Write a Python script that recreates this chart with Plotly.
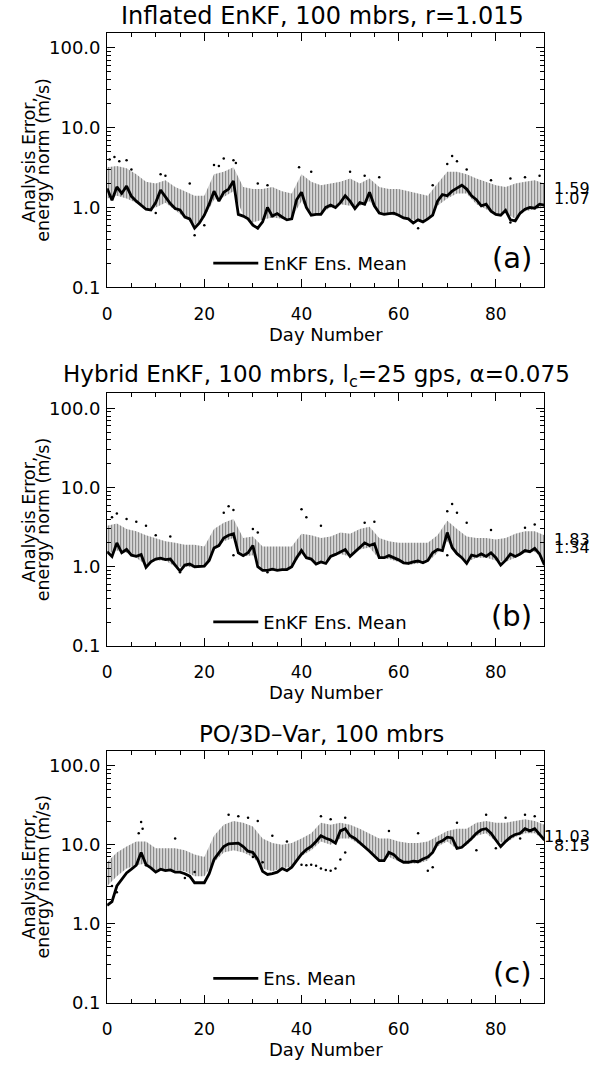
import math
import plotly.graph_objects as go

# ---------------- data ----------------
days = list(range(0, 91))
band_days = list(range(0, 91, 2))

mean_a = [1.73, 1.23, 1.81, 1.50, 1.85, 1.38, 1.20, 1.07, 0.95, 0.93,
          1.15, 1.65, 1.35, 1.12, 0.97, 0.93, 0.76, 0.72, 0.55, 0.64,
          0.80, 1.10, 1.60, 1.20, 1.55, 1.70, 2.15, 0.82, 0.78, 0.72,
          0.60, 0.55, 0.66, 1.00, 0.78, 0.84, 0.76, 0.70, 0.72, 1.25,
          1.55, 1.00, 0.80, 0.82, 0.82, 1.00, 1.07, 1.00, 1.15, 1.40,
          1.20, 0.97, 1.15, 1.10, 1.55, 1.05, 0.85, 0.82, 0.84, 0.85,
          0.80, 0.74, 0.72, 0.64, 0.70, 0.66, 0.72, 0.80, 1.20, 1.45,
          1.40, 1.60, 1.75, 1.90, 1.70, 1.40, 1.25, 1.05, 1.10, 0.90,
          0.82, 0.80, 0.92, 0.70, 0.68, 0.85, 0.95, 1.00, 0.98, 1.10,
          1.07]
hi_a = [3.2, 3.3, 3.1, 2.6, 2.1, 2.0, 2.2, 1.8, 1.6, 1.4, 1.4, 2.6, 2.8,
        3.2, 1.8, 1.7, 1.7, 1.8, 1.6, 1.5, 2.6, 2.1, 1.9, 2.0, 2.1, 2.3,
        2.0, 2.3, 1.8, 1.7, 1.7, 1.6, 1.5, 1.4, 2.0, 2.8, 2.8, 2.6, 2.3,
        2.1, 1.9, 1.8, 2.0, 2.1, 2.2, 2.0]
lo_a = [1.3, 1.4, 1.3, 1.15, 0.95, 1.0, 1.15, 0.92, 0.75, 0.6, 0.75, 1.25,
        1.35, 1.6, 0.8, 0.65, 0.7, 0.75, 0.72, 0.75, 1.2, 0.82, 0.85, 1.0,
        1.1, 1.05, 1.05, 1.2, 0.85, 0.82, 0.78, 0.72, 0.68, 0.7, 1.05, 1.3,
        1.5, 1.5, 1.1, 0.95, 0.82, 0.85, 0.72, 0.9, 0.95, 1.0]
out_a_x = [0.5, 1.5, 2.5, 4, 5, 11, 12, 17, 22, 23, 24, 26, 26.5, 31, 33,
           39.5, 42, 50, 53, 56, 67, 70, 71, 72, 74, 79, 83, 86, 89,
           18, 20, 31, 64, 83, 10]
out_a_y = [4.0, 4.3, 3.8, 3.9, 3.0, 2.6, 2.5, 2.0, 3.4, 3.3, 4.1, 3.9, 3.6,
           2.0, 1.9, 3.2, 2.8, 2.8, 2.5, 2.4, 1.9, 3.5, 4.4, 3.8, 3.0, 2.2,
           2.3, 2.4, 2.5, 0.45, 0.6, 0.55, 0.55, 0.65, 0.85]

mean_b = [1.55, 1.35, 2.00, 1.50, 1.65, 1.40, 1.35, 1.42, 0.98, 1.15,
          1.25, 1.28, 1.23, 1.25, 1.05, 0.88, 1.05, 1.08, 1.00, 1.00,
          1.02, 1.20, 1.72, 1.85, 2.30, 2.50, 2.60, 1.50, 1.38, 1.50,
          1.85, 1.00, 0.90, 0.90, 0.93, 0.90, 0.92, 0.92, 1.00, 1.30,
          1.60, 1.30, 1.25, 1.08, 1.15, 1.10, 1.35, 1.43, 1.55, 1.65,
          1.35, 1.55, 1.75, 2.00, 1.85, 1.95, 1.30, 1.30, 1.38, 1.30,
          1.22, 1.12, 1.10, 1.15, 1.18, 1.12, 1.20, 1.50, 1.65, 1.60,
          2.70, 1.75, 1.46, 1.30, 1.10, 1.40, 1.35, 1.45, 1.35, 1.50,
          1.30, 1.05, 1.20, 1.45, 1.35, 1.45, 1.60, 1.55, 1.70, 1.45,
          1.05]
hi_b = [3.3, 3.5, 3.0, 2.8, 2.5, 2.3, 2.1, 2.0, 1.9, 1.9, 1.8, 3.0, 3.6,
        4.0, 2.3, 2.4, 1.8, 1.8, 1.8, 1.8, 2.6, 2.5, 2.3, 2.4, 2.7, 2.6,
        3.0, 3.2, 2.3, 2.1, 2.0, 2.0, 2.0, 2.0, 2.5, 3.8, 3.0, 2.4, 2.3,
        2.3, 2.2, 2.3, 2.6, 2.8, 2.8, 2.5]
lo_b = [1.45, 1.6, 1.5, 1.3, 1.05, 1.2, 1.2, 1.0, 1.0, 0.98, 1.0, 1.6, 2.1,
        2.3, 1.35, 1.4, 0.9, 0.9, 0.9, 0.98, 1.45, 1.2, 1.1, 1.3, 1.45, 1.35,
        1.65, 1.75, 1.25, 1.25, 1.15, 1.05, 1.1, 1.15, 1.5, 2.1, 1.4, 1.15,
        1.3, 1.3, 1.2, 1.15, 1.3, 1.5, 1.55, 1.2]
out_b_x = [1, 2, 4, 6, 8, 10, 13, 24, 25, 26, 30, 31, 40, 41, 44, 53, 55,
           70, 71, 72, 74, 79, 86, 88, 15, 33, 26, 70]
out_b_y = [4.2, 4.7, 4.0, 3.7, 3.3, 2.5, 2.4, 4.8, 5.8, 5.2, 3.0, 2.7, 5.3,
           4.2, 3.3, 3.6, 3.7, 5.0, 6.2, 4.8, 3.6, 2.9, 3.1, 3.4, 0.85,
           0.85, 1.4, 1.4]

mean_c = [1.7, 1.9, 3.0, 3.6, 4.4, 4.9, 5.5, 8.0, 5.6, 5.1,
          4.5, 4.9, 4.7, 4.8, 4.5, 4.5, 4.3, 4.0, 3.3, 3.3,
          3.3, 4.3, 6.5, 7.9, 9.5, 10.3, 10.5, 10.5, 9.5, 8.3,
          8.0, 6.5, 4.6, 4.2, 4.3, 4.5, 5.0, 4.7, 5.2, 6.2,
          7.6, 8.7, 9.5, 11.0, 13.0, 12.1, 11.5, 10.5, 15.0, 16.0,
          13.0, 12.0, 10.6, 9.5, 8.3, 7.2, 6.3, 6.3, 8.0, 7.5,
          6.5, 6.0, 6.0, 6.2, 6.1, 6.6, 7.0, 8.0, 10.5, 11.2,
          12.5, 12.2, 9.0, 9.3, 10.5, 12.0, 14.0, 15.5, 16.0, 14.0,
          11.5, 9.5, 11.0, 12.5, 13.5, 14.0, 16.0, 15.0, 16.0, 13.5,
          11.5]
hi_c = [6.0, 8.0, 9.5, 11.0, 11.0, 9.0, 9.0, 9.0, 8.5, 7.5, 7.0, 13.0,
        18.0, 20.0, 19.0, 17.0, 12.0, 10.5, 10.0, 10.5, 12.0, 14.0, 19.0,
        18.0, 19.0, 18.0, 16.0, 14.0, 12.0, 12.0, 11.0, 10.5, 10.5, 11.0,
        13.0, 15.0, 16.0, 16.0, 19.0, 20.0, 19.0, 19.0, 20.0, 21.0, 20.0,
        18.0]
lo_c = [3.0, 4.0, 5.0, 5.5, 5.8, 4.8, 4.8, 4.8, 4.6, 4.0, 4.0, 6.0, 8.0,
        8.5, 8.0, 7.0, 5.0, 4.6, 5.0, 5.3, 7.2, 8.5, 11.0, 10.0, 12.0,
        12.0, 10.0, 8.0, 6.2, 7.0, 6.2, 5.8, 5.8, 6.3, 9.5, 11.0, 8.8,
        9.8, 13.0, 14.0, 11.0, 10.5, 12.5, 14.0, 14.0, 11.5]
out_c_x = [7, 7.3, 6.5, 1, 2, 14, 25, 27, 29, 31, 34, 37, 44, 46, 49, 58,
           64, 72, 78, 82, 86, 88, 8, 16, 18, 30, 32, 40, 41, 42, 43, 44,
           45, 46, 47, 48, 49, 66, 67, 76, 80, 85]
out_c_y = [19.5, 16.0, 14.0, 3.0, 2.5, 12.0, 24.0, 23.0, 22.0, 20.0, 13.0,
           11.0, 23.0, 21.0, 22.0, 15.0, 14.0, 19.0, 24.0, 22.0, 24.0, 23.0,
           5.5, 3.8, 4.5, 7.0, 6.0, 5.6, 5.5, 5.6, 5.4, 5.0, 4.8, 4.7, 5.0,
           6.5, 8.0, 4.7, 5.2, 8.5, 9.0, 12.0]

titles = ["Inflated EnKF, 100 mbrs, r=1.015",
          "Hybrid EnKF, 100 mbrs, l<sub>c</sub>=25 gps, \u03b1=0.075",
          "PO/3D\u2013Var, 100 mbrs"]
legend_labels = ["EnKF Ens. Mean", "EnKF Ens. Mean", "Ens. Mean"]
panel_tags = ["(a)", "(b)", "(c)"]
right_vals = [[1.59, 1.07], [1.83, 1.34], [11.03, 8.15]]
x_tickvals = [0, 20, 40, 60, 80]
y_tickvals = [0.1, 1, 10, 100]
y_ticktext = ["0.1", "1.0", "10.0", "100.0"]
x_title = "Day Number"
y_title_lines = ["Analysis Error,", "energy norm (m/s)"]

# ---------------- layout geometry ----------------
W, H = 595, 1068
FONT = "DejaVu Sans"
x_dom = [103 / W, 544 / W]
panel_px = [(33, 290), (397, 652), (758, 1012)]  # (top, bottom) in px
y_doms = [[1 - b / H, 1 - t / H] for t, b in panel_px]
title_cfg = [(320, 24), (314, 23), (319, 23)]  # (center x px, font size)
right_shift = [(3, 7), (6, 9), (5, 6)]         # label nudges (px, upwards)

panels = [
    (mean_a, hi_a, lo_a, out_a_x, out_a_y),
    (mean_b, hi_b, lo_b, out_b_x, out_b_y),
    (mean_c, hi_c, lo_c, out_c_x, out_c_y),
]

fig = go.Figure()
minor_y = [m * 10 ** e for e in range(-1, 3) for m in range(2, 10) if m * 10 ** e < 160]

annotations = []
for i, (mean, hi, lo, ox, oy) in enumerate(panels):
    n = "" if i == 0 else str(i + 1)
    xa, ya = "x" + n, "y" + n
    # ensemble member stripes (band)
    fig.add_trace(go.Scatter(x=band_days, y=lo, xaxis=xa, yaxis=ya, mode="lines",
                             line=dict(width=0, color="rgba(0,0,0,0)"),
                             showlegend=False, hoverinfo="skip"))
    fig.add_trace(go.Scatter(x=band_days, y=hi, xaxis=xa, yaxis=ya, mode="lines",
                             line=dict(width=0, color="rgba(0,0,0,0)"),
                             fill="tonexty", fillcolor="rgba(0,0,0,0)",
                             fillpattern=dict(shape="|", size=3, solidity=0.55,
                                              fgcolor="#000000", bgcolor="rgba(255,255,255,0)"),
                             showlegend=False, hoverinfo="skip"))
    fig.add_trace(go.Scatter(x=ox, y=oy, xaxis=xa, yaxis=ya, mode="markers",
                             marker=dict(size=2.5, color="black"),
                             showlegend=False, hoverinfo="skip"))
    leg = "legend" + n
    fig.add_trace(go.Scatter(x=days, y=mean, xaxis=xa, yaxis=ya, mode="lines",
                             line=dict(width=2.8, color="black"),
                             name=legend_labels[i], legend=leg, showlegend=True))

    top, bot = panel_px[i]
    axis_common = dict(showline=True, linecolor="black", linewidth=1, mirror="allticks",
                       ticks="inside", tickcolor="black", showgrid=False, zeroline=False)
    fig.layout["xaxis" + n] = dict(domain=x_dom, anchor=ya, range=[0, 90],
                                   tickmode="array", tickvals=x_tickvals, ticklen=8,
                                   ticklabelstandoff=11,
                                   tickfont=dict(family=FONT, size=17, color="black"),
                                   minor=dict(ticks="inside", dtick=5, tick0=0, ticklen=4,
                                              tickcolor="black"),
                                   title=dict(text=x_title, font=dict(family=FONT, size=18, color="black"),
                                              standoff=0),
                                   **axis_common)
    fig.layout["yaxis" + n] = dict(domain=y_doms[i], anchor=xa, type="log", range=[-1, 2.19],
                                   tickmode="array", tickvals=y_tickvals, ticktext=y_ticktext,
                                   ticklen=8, ticklabelstandoff=2,
                                   tickfont=dict(family=FONT, size=18, color="black"),
                                   minor=dict(ticks="inside", tickmode="array", tickvals=minor_y,
                                              ticklen=4, tickcolor="black"),
                                   **axis_common)
    # panel title
    tx, tsize = title_cfg[i]
    annotations.append(dict(text=titles[i], xref="paper", yref="paper",
                            x=tx / W, y=1 - (top - 17) / H,
                            xanchor="center", yanchor="middle", showarrow=False,
                            font=dict(family=FONT, size=tsize, color="black")))
    # y title (two lines)
    cy = 1 - (top + bot) / 2 / H
    for line_txt, xpx in zip(y_title_lines, [24, 38]):
        annotations.append(dict(text=line_txt, xref="paper", yref="paper",
                                x=xpx / W, y=cy, textangle=-90, xanchor="center",
                                yanchor="middle", showarrow=False,
                                font=dict(family=FONT, size=17.5, color="black")))
    # right-hand values
    for v, sh in zip(right_vals[i], right_shift[i]):
        annotations.append(dict(text=f"{v:.2f}", xref="paper", yref=ya, x=592 / W, y=math.log10(v),
                                xanchor="right", yanchor="middle", yshift=sh, showarrow=False,
                                font=dict(family=FONT, size=16, color="black")))
    # panel tag
    annotations.append(dict(text=panel_tags[i], xref="paper", yref="paper",
                            x=533 / W, y=1 - (bot - 30) / H, xanchor="right", yanchor="middle",
                            showarrow=False, font=dict(family=FONT, size=29, color="black")))
    # legend placement
    fig.layout[leg] = dict(x=205 / W, y=1 - (bot - 24) / H, xanchor="left", yanchor="middle",
                           bgcolor="rgba(0,0,0,0)", borderwidth=0, itemwidth=45,
                           font=dict(family=FONT, size=18, color="black"))

fig.update_layout(width=W, height=H, margin=dict(l=0, r=0, t=0, b=0),
                  paper_bgcolor="white", plot_bgcolor="white",
                  annotations=annotations, font=dict(family=FONT, color="black"))

# remove the default page margin so the figure sits at the window's top-left corner
fig.write_html("out.html",
               config={"displayModeBar": False},
               post_script="document.body.style.margin='0px';document.body.style.padding='0px';"
                           "document.documentElement.style.overflow='hidden';")
